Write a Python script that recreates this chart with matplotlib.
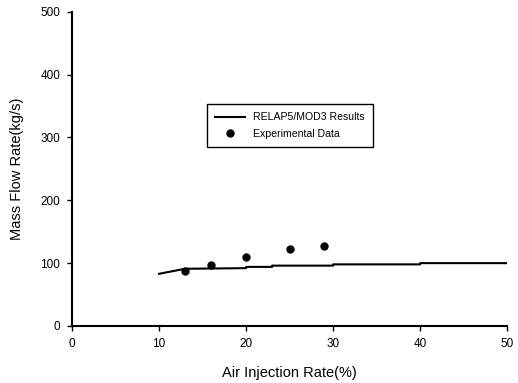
import numpy as np
import matplotlib.pyplot as plt

plt.rcParams['font.family'] = ['Liberation Sans', 'DejaVu Sans']

# RELAP5/MOD3 results (stepped curve)
relap_x = [10, 13, 20, 20, 23, 23, 30, 30, 40, 40, 50]
relap_y = [83, 91, 92, 94, 94, 96, 96, 98, 98, 100, 100]

# experimental data
exp_x = [13, 16, 20, 25, 29]
exp_y = [87, 96.5, 109, 122, 127]

fig = plt.figure(figsize=(5.18, 3.83), dpi=100)
ax = fig.add_axes([0.139, 0.149, 0.840, 0.820])

ax.plot(relap_x, relap_y, '-', color='black', lw=1.5, label='RELAP5/MOD3 Results')
ax.plot(exp_x, exp_y, 'o', color='black', ms=5, label='Experimental Data')

ax.set_xlim(0, 50)
ax.set_ylim(0, 500)
ax.set_xticks(np.arange(0, 51, 10))
ax.set_yticks(np.arange(0, 501, 100))
ax.spines['top'].set_visible(False)
ax.spines['right'].set_visible(False)
ax.spines['left'].set_linewidth(1.5)
ax.spines['bottom'].set_linewidth(1.5)
ax.tick_params(direction='out', length=3.5, width=1.0, labelsize=8.5,
               colors='black', pad=5)
ax.set_xlabel('Air Injection Rate(%)', fontsize=10.5, labelpad=12)
ax.set_ylabel('Mass Flow Rate(kg/s)', fontsize=10.5, labelpad=12)

leg = ax.legend(loc='upper left', bbox_to_anchor=(0.31, 0.707), fontsize=7.6,
                fancybox=False, edgecolor='black', framealpha=1,
                handlelength=2.8, handletextpad=0.75, labelspacing=0.6,
                borderpad=0.8, borderaxespad=0)
leg.get_frame().set_linewidth(1.0)

fig.savefig('out.png', dpi=100)
